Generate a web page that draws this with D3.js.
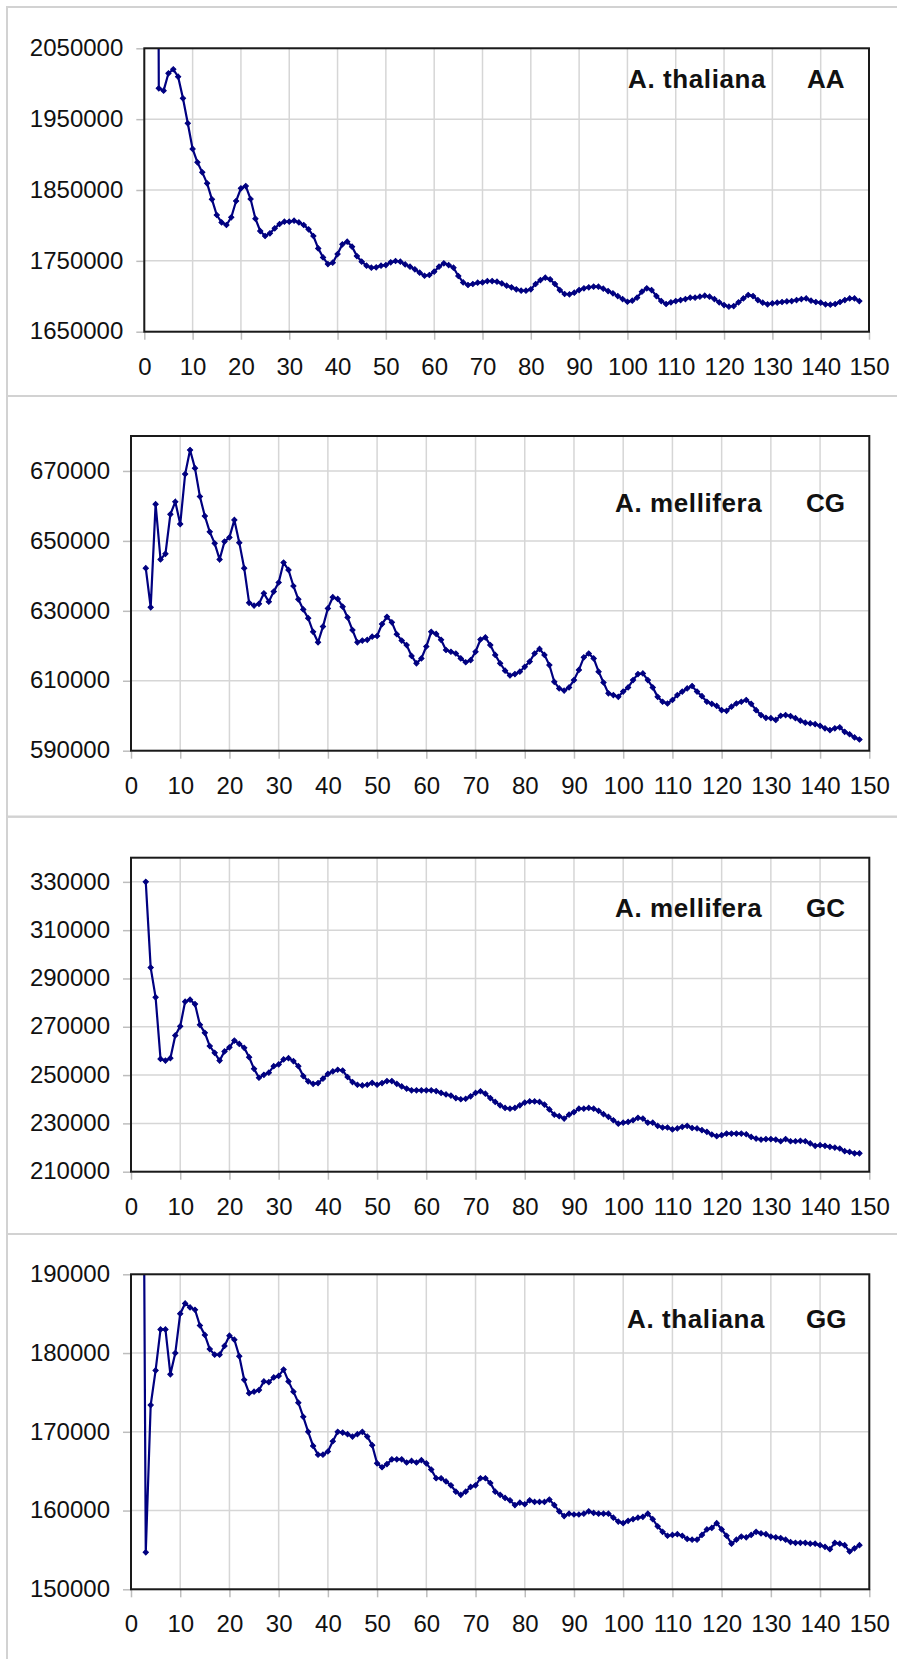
<!DOCTYPE html>
<html>
<head>
<meta charset="utf-8">
<script src="https://cdn.jsdelivr.net/npm/d3@7/dist/d3.min.js"></script>
<style>
    body { margin: 0; background: #fff; }
    svg { display: block; font-family: "Liberation Sans", Arial, sans-serif; }
</style>
</head>
<body>
<svg id="chart"></svg>
<script>
const width = 897;
const height = 1659;

// distance axis, shared by every panel
const xTicks = [0, 10, 20, 30, 40, 50, 60, 70, 80, 90, 100, 110, 120, 130, 140, 150];

// A. thaliana AA, distances 2..148 (the first value is off the chart)
const aaStart = 2;
const aaValues = [
    4000000, 1993500, 1990200, 2014700, 2020400, 2010000, 1979400, 1944100, 1907900, 1889100,
    1874900, 1859400, 1836800, 1814700, 1804300, 1800600, 1811400, 1834500, 1852300, 1855600,
    1837300, 1809500, 1792100, 1785100, 1788800, 1795900, 1802000, 1805300, 1805300, 1806700,
    1804300, 1800600, 1794500, 1785100, 1767600, 1754900, 1745500, 1747400, 1759600, 1773300,
    1777100, 1770000, 1756800, 1748800, 1743200, 1740300, 1740800, 1743200, 1744100, 1747900,
    1749800, 1748900, 1745000, 1741800, 1738000, 1733300, 1729000, 1730000, 1734700, 1741800,
    1746500, 1744100, 1740300, 1728600, 1719600, 1715900, 1717300, 1719200, 1719600, 1721500,
    1721500, 1720600, 1718200, 1714900, 1712600, 1709800, 1707900, 1707900, 1709800, 1717300,
    1722900, 1726200, 1723900, 1717300, 1708800, 1703200, 1702700, 1705100, 1708800, 1711200,
    1712600, 1713500, 1713500, 1710700, 1707400, 1704100, 1700300, 1696100, 1692300, 1693800,
    1698000, 1706500, 1711200, 1708800, 1700300, 1693300, 1689100, 1691400, 1693300, 1694700,
    1696100, 1698000, 1698000, 1699400, 1700800, 1699400, 1696100, 1691400, 1687600, 1685300,
    1686200, 1691400, 1697000, 1701800, 1700300, 1694700, 1690900, 1688600, 1690000, 1690900,
    1691900, 1692800, 1693300, 1694700, 1696100, 1697000, 1693800, 1691900, 1690900, 1688600,
    1688100, 1689100, 1691900, 1694700, 1697000, 1697000, 1693300
];
const aaTicks = [1650000, 1750000, 1850000, 1950000, 2050000];

// A. mellifera CG, distances 3..148
const cgStart = 3;
const cgValues = [
    642200, 631000, 660500, 644700, 646300, 657600, 661200, 654800, 669100, 676000,
    670800, 662700, 657100, 652600, 649300, 644700, 649800, 651000, 656000, 649500,
    642200, 632300, 631500, 632000, 635000, 632600, 635500, 638100, 643800, 641700,
    637100, 633300, 630400, 627900, 624000, 621000, 625500, 630700, 633900, 633400,
    631200, 628100, 624500, 621000, 621500, 621700, 622600, 622800, 626200, 628300,
    626700, 623300, 621500, 620200, 617100, 615000, 616400, 619800, 624000, 623400,
    621700, 618800, 618300, 617800, 616400, 615300, 615900, 618300, 621800, 622400,
    620200, 617400, 615000, 612900, 611500, 611900, 612600, 614000, 615500, 617800,
    619100, 617400, 614500, 609700, 607800, 607200, 608100, 610200, 613100, 616700,
    617800, 616400, 612600, 609500, 606400, 605900, 605400, 606900, 608100, 610200,
    611900, 612100, 610200, 608100, 605400, 604000, 603500, 604500, 605900, 606900,
    607800, 608500, 606900, 605600, 604000, 603400, 602800, 601600, 601400, 602600,
    603500, 604000, 604500, 603400, 601600, 600200, 599400, 599300, 598800, 600000,
    600200, 599900, 599300, 598600, 598000, 597800, 597600, 597100, 596400, 595900,
    596400, 596700, 595400, 594700, 593800, 593200
];
const cgTicks = [590000, 610000, 630000, 650000, 670000];

// A. mellifera GC, distances 3..148
const gcStart = 3;
const gcValues = [
    330000, 294500, 282200, 256700, 256000, 257000, 266400, 270200, 280400, 281200,
    279400, 270800, 267500, 262000, 259200, 256000, 259800, 261500, 264300, 262900,
    261300, 257400, 252600, 248900, 250100, 251000, 253700, 254400, 256500, 257000,
    255800, 253700, 249600, 247400, 246400, 246700, 248500, 250500, 251500, 252200,
    251900, 249200, 247100, 246000, 245700, 246000, 246800, 246000, 246700, 247500,
    247500, 246400, 245300, 244400, 243700, 243700, 243700, 243700, 243700, 243400,
    242600, 242000, 241500, 240500, 240000, 240200, 241200, 242600, 243300, 242300,
    240500, 238900, 237500, 236400, 236100, 236400, 237500, 238600, 239100, 239100,
    238900, 237800, 235800, 233600, 233000, 232000, 233600, 234700, 236100, 236100,
    236400, 236100, 235200, 233800, 232700, 231300, 229900, 230300, 230600, 231300,
    232300, 232000, 230300, 230300, 229000, 228300, 228300, 227500, 227900, 228600,
    229000, 228100, 227900, 227200, 226500, 225400, 224700, 225100, 225800, 225800,
    225800, 225800, 225500, 224400, 223700, 223300, 223500, 223500, 223300, 222600,
    223500, 222600, 222600, 222800, 222600, 221700, 220700, 221000, 220700, 220300,
    220000, 219600, 218500, 218200, 217600, 217600
];
const gcTicks = [210000, 230000, 250000, 270000, 290000, 310000, 330000];

// A. thaliana GG, distances 2..148 (the first value is off the chart)
const ggStart = 2;
const ggValues = [
    270000, 154700, 173400, 177800, 183000, 183000, 177300, 180000, 185000, 186300,
    185800, 185500, 183500, 182300, 180500, 179800, 179800, 180900, 182200, 181700,
    179600, 176600, 174900, 175100, 175300, 176400, 176300, 176900, 177100, 177900,
    176400, 175100, 173700, 171900, 170000, 168200, 167100, 167100, 167500, 168800,
    170000, 169900, 169700, 169400, 169700, 170000, 169400, 168300, 166000, 165500,
    165900, 166500, 166500, 166500, 166100, 166300, 166100, 166400, 166000, 165200,
    164100, 164100, 163700, 163200, 162400, 162000, 162400, 163000, 163200, 164100,
    164100, 163500, 162400, 162000, 161600, 161300, 160700, 161000, 160800, 161300,
    161100, 161100, 161100, 161400, 160700, 159900, 159300, 159600, 159500, 159500,
    159600, 159900, 159700, 159600, 159600, 159600, 159100, 158600, 158400, 158700,
    158900, 159100, 159200, 159600, 158900, 158000, 157300, 156800, 156900, 157000,
    156800, 156400, 156300, 156300, 156900, 157600, 157800, 158400, 157600, 156800,
    155800, 156300, 156700, 156600, 156900, 157300, 157100, 157000, 156700, 156600,
    156500, 156300, 156000, 155900, 155900, 155900, 155800, 155800, 155600, 155400,
    155100, 155900, 155800, 155600, 154800, 155200, 155600
];
const ggTicks = [150000, 160000, 170000, 180000, 190000];

// layout of the four stacked panels
const panels = [
    { species: 'A. thaliana', pair: 'AA', start: aaStart, values: aaValues, ticks: aaTicks,
      yDomain: [1650000, 2050000], frame: [7, 396],
      plot: { left: 144.3, right: 869, top: 48.3, bottom: 331.7 },
      label: { species: 628, pair: 807, y: 88 } },
    { species: 'A. mellifera', pair: 'CG', start: cgStart, values: cgValues, ticks: cgTicks,
      yDomain: [590000, 680000], frame: [396, 816.7],
      plot: { left: 131, right: 869.3, top: 436, bottom: 750.7 },
      label: { species: 615, pair: 806, y: 511.7 } },
    { species: 'A. mellifera', pair: 'GC', start: gcStart, values: gcValues, ticks: gcTicks,
      yDomain: [210000, 340000], frame: [816.7, 1234],
      plot: { left: 131, right: 869.3, top: 857.7, bottom: 1171.7 },
      label: { species: 615, pair: 806, y: 916.7 } },
    { species: 'A. thaliana', pair: 'GG', start: ggStart, values: ggValues, ticks: ggTicks,
      yDomain: [150000, 190000], frame: [1234, 1670],
      plot: { left: 131, right: 869.3, top: 1274.3, bottom: 1589.3 },
      label: { species: 627, pair: 806, y: 1328.3 } }
];

const lineColor = '#000080';
const gridColor = '#d6d6d6';

const svg = d3.select('#chart')
    .attr('width', width).attr('height', height);

svg.append('rect')
    .attr('width', width).attr('height', height)
    .attr('fill', '#fff');

panels.forEach(drawPanel);

function drawPanel(p, i) {
    const g = svg.append('g');
    const pw = p.plot.right - p.plot.left;
    const ph = p.plot.bottom - p.plot.top;

    // outer chart frame
    g.append('rect')
        .attr('x', 7).attr('y', p.frame[0])
        .attr('width', width + 10).attr('height', p.frame[1] - p.frame[0])
        .attr('fill', 'none')
        .attr('stroke', '#d2d2d2')
        .attr('stroke-width', 2);

    const x = d3.scaleLinear().domain([0, 150]).range([p.plot.left, p.plot.right]);
    const y = d3.scaleLinear().domain(p.yDomain).range([p.plot.bottom, p.plot.top]);

    // gridlines
    g.append('g')
        .selectAll('line.vgrid')
        .data(xTicks)
        .enter().append('line')
        .attr('x1', d => x(d)).attr('x2', d => x(d))
        .attr('y1', p.plot.top).attr('y2', p.plot.bottom)
        .attr('stroke', gridColor).attr('stroke-width', 1.5);
    g.append('g')
        .selectAll('line.hgrid')
        .data(p.ticks)
        .enter().append('line')
        .attr('x1', p.plot.left).attr('x2', p.plot.right)
        .attr('y1', d => y(d)).attr('y2', d => y(d))
        .attr('stroke', gridColor).attr('stroke-width', 1.5);

    // axes
    const yAxis = g.append('g')
        .attr('transform', `translate(${p.plot.left},0)`)
        .call(d3.axisLeft(y).tickValues(p.ticks).tickSize(8).tickPadding(13).tickFormat(d3.format('d')));
    const xAxis = g.append('g')
        .attr('transform', `translate(0,${p.plot.bottom})`)
        .call(d3.axisBottom(x).tickValues(xTicks).tickSize(8).tickPadding(18).tickFormat(d3.format('d')));

    [yAxis, xAxis].forEach(a => {
        a.select('.domain').remove();
        a.selectAll('.tick line').attr('stroke', '#bdbdbd').attr('stroke-width', 1.5);
        a.selectAll('.tick text')
            .attr('fill', '#111')
            .style('font-size', '24px')
            .style('font-family', '"Liberation Sans", Arial, sans-serif');
    });
    yAxis.selectAll('.tick text').attr('dy', '0.3em');

    // the series, clipped to the plot area
    const clipId = 'clip' + i;
    svg.append('clipPath').attr('id', clipId)
        .append('rect')
        .attr('x', p.plot.left).attr('y', p.plot.top)
        .attr('width', pw).attr('height', ph);

    const points = p.values.map((v, k) => [p.start + k, v]);
    const line = d3.line()
        .x(d => x(d[0]))
        .y(d => y(d[1]));

    const series = g.append('g').attr('clip-path', `url(#${clipId})`);
    series.append('path')
        .datum(points)
        .attr('d', line)
        .attr('fill', 'none')
        .attr('stroke', lineColor)
        .attr('stroke-width', 2.2);

    const marker = d3.symbol().type(d3.symbolSquare).size(14);
    series.selectAll('path.marker')
        .data(points)
        .enter().append('path')
        .attr('class', 'marker')
        .attr('d', marker)
        .attr('transform', d => `translate(${x(d[0])},${y(d[1])}) rotate(45)`)
        .attr('fill', lineColor)
        .attr('stroke', lineColor)
        .attr('stroke-width', 1);

    // plot border
    g.append('rect')
        .attr('x', p.plot.left).attr('y', p.plot.top)
        .attr('width', pw).attr('height', ph)
        .attr('fill', 'none')
        .attr('stroke', '#1a1a1a')
        .attr('stroke-width', 2);

    // panel labels
    g.append('text')
        .attr('x', p.label.species).attr('y', p.label.y)
        .attr('font-size', 26).attr('font-weight', 'bold')
        .attr('letter-spacing', 0.6)
        .attr('fill', '#111')
        .text(p.species);
    g.append('text')
        .attr('x', p.label.pair).attr('y', p.label.y)
        .attr('font-size', 26).attr('font-weight', 'bold')
        .attr('fill', '#111')
        .text(p.pair);
}
</script>
</body>
</html>
